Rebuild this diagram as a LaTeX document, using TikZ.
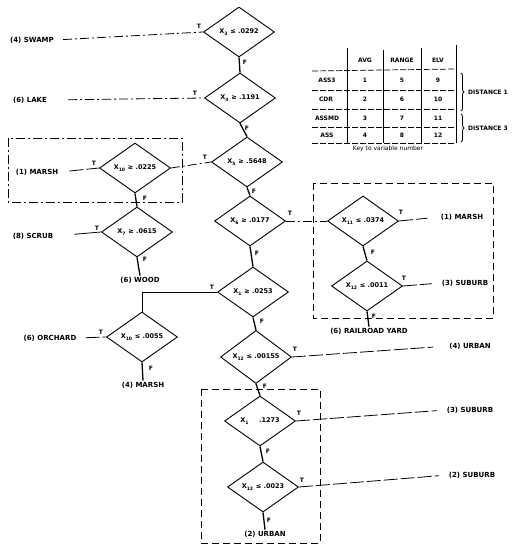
\documentclass[tikz,border=0pt]{standalone}
\usepackage{fontspec}
\setmainfont{DejaVu Sans}
\usetikzlibrary{shapes.geometric,decorations.pathreplacing}
\begin{document}
\begin{tikzpicture}[x=1pt,y=-1pt,
  dia/.style={diamond,draw,line width=0.9pt,inner sep=0pt,minimum width=71pt,minimum height=50pt,font=\bfseries\fontsize{6.5}{7}\selectfont},
  leaf/.style={inner sep=1pt,font=\bfseries\fontsize{7}{8}\selectfont},
  lab/.style={inner sep=0pt,font=\bfseries\fontsize{6}{6}\selectfont},
  cell/.style={inner sep=0pt,font=\bfseries\fontsize{6}{6}\selectfont},
  chain/.style={line width=1.3pt},
  tline/.style={line width=0.8pt},
  dd/.style={line width=0.8pt,dash pattern=on 9pt off 3pt on 2pt off 3pt},
  ld/.style={line width=0.8pt,dash pattern=on 14pt off 3pt},
  boxd/.style={line width=0.9pt,dash pattern=on 7pt off 4pt},
  boxdd/.style={line width=0.9pt,dash pattern=on 9pt off 3pt on 2pt off 3pt},
  tab/.style={line width=0.7pt,dash pattern=on 6pt off 2pt},
  tabv/.style={line width=0.9pt},
]
\fill[white] (0,0) rectangle (524,548);
\useasboundingbox (0,0) rectangle (524,548);

% dashed group boxes
\draw[boxdd] (8,138) rectangle (182,202);
\draw[boxd] (313,183) rectangle (493,318);
\draw[boxd] (201,389) rectangle (320,543);

% decision diamonds
\node[dia] (d1) at (239,32) {X\textsubscript{3} ≤ .0292};
\node[dia] (d2) at (240,98) {X\textsubscript{4} ≥ .1191};
\node[dia] (d3) at (247,162) {X\textsubscript{5} ≥ .5648};
\node[dia] (d4) at (250,221) {X\textsubscript{6} ≥ .0177};
\node[dia] (d5) at (253,292) {X\textsubscript{1} ≥ .0253};
\node[dia] (d6) at (256,357) {X\textsubscript{12} ≤ .00155};
\node[dia] (d7) at (260,421) {X\textsubscript{1} \phantom{≥} .1273};
\node[dia] (d8) at (263,487) {X\textsubscript{12} ≤ .0023};
\node[dia] (d9) at (135,168) {X\textsubscript{10} ≥ .0225};
\node[dia] (d10) at (137,232) {X\textsubscript{7} ≥ .0615};
\node[dia] (d11) at (142,337) {X\textsubscript{10} ≤ .0055};
\node[dia] (d12) at (363,221) {X\textsubscript{11} ≤ .0374};
\node[dia] (d13) at (367,286) {X\textsubscript{12} ≤ .0011};

% leaves
\node[leaf] (swamp) at (32,40) {(4) SWAMP};
\node[leaf] (lake) at (30,100) {(6) LAKE};
\node[leaf] (marshA) at (37,172) {(1) MARSH};
\node[leaf] (scrub) at (33,236) {(8) SCRUB};
\node[leaf] (wood) at (140,280) {(6) WOOD};
\node[leaf] (orchard) at (50,338) {(6) ORCHARD};
\node[leaf] (marshB) at (143,385) {(4) MARSH};
\node[leaf] (marshC) at (462,217) {(1) MARSH};
\node[leaf] (suburbA) at (465,283) {(3) SUBURB};
\node[leaf] (rail) at (369,331) {(6) RAILROAD YARD};
\node[leaf] (urbanA) at (470,346) {(4) URBAN};
\node[leaf] (suburbB) at (470,410) {(3) SUBURB};
\node[leaf] (suburbC) at (472,475) {(2) SUBURB};
\node[leaf] (urbanB) at (265,534) {(2) URBAN};

% main chain (F branches)
\draw[chain] (d1.south) -- (d2.north);
\draw[chain] (d2.south) -- (d3.north);
\draw[chain] (d3.south) -- (d4.north);
\draw[chain] (d4.south) -- (d5.north);
\draw[chain] (d5.south) -- (d6.north);
\draw[chain] (d6.south) -- (d7.north);
\draw[chain] (d7.south) -- (d8.north);
\draw[chain] (d8.south) -- (urbanB.north);
\draw[chain] (d9.south) -- (d10.north);
\draw[chain] (d10.south) -- (wood.north);
\draw[chain] (d11.south) -- (marshB.north);
\draw[chain] (d12.south) -- (d13.north);
\draw[chain] (d13.south) -- (rail.north);

% T branches
\draw[dd,shorten <=8pt] (swamp.east) -- (d1.west);
\draw[dd,shorten <=20pt] (lake.east) -- (d2.west);
\draw[ld,shorten <=10pt] (marshA.east) -- (d9.west);
\draw[dd] (d9.east) -- (d3.west);
\draw[tline,shorten <=20pt] (scrub.east) -- (d10.west);
\coordinate (cbend) at (d11.north |- d5.west);
\draw[tline] (d5.west) -- (cbend) -- (d11.north);
\draw[ld,shorten <=8pt] (orchard.east) -- (d11.west);
\draw[dd] (d4.east) -- (d12.west);
\draw[ld,shorten >=12pt] (d12.east) -- (marshC.west);
\draw[ld,shorten >=9pt] (d13.east) -- (suburbA.west);
\draw[ld,shorten >=15pt] (d6.east) -- (urbanA.west);
\draw[ld,shorten >=9pt] (d7.east) -- (suburbB.west);
\draw[ld,shorten >=9pt] (d8.east) -- (suburbC.west);

% T / F labels
\node[lab] (t1) at (199,26) {T};
\node[lab] (t2) at (195,93) {T};
\node[lab] (t3) at (205,157) {T};
\node[lab] (t4) at (290,213) {T};
\node[lab] (t5) at (212,287) {T};
\node[lab] (t6) at (295,349) {T};
\node[lab] (t7) at (299,413) {T};
\node[lab] (t8) at (302,480) {T};
\node[lab] (t9) at (94,163) {T};
\node[lab] (t10) at (97,228) {T};
\node[lab] (t11) at (101,332) {T};
\node[lab] (t12) at (401,212) {T};
\node[lab] (t13) at (404,278) {T};
\node[lab] (f1) at (245,62) {F};
\node[lab] (f2) at (247,128) {F};
\node[lab] (f3) at (254,191) {F};
\node[lab] (f4) at (257,253) {F};
\node[lab] (f5) at (262,321) {F};
\node[lab] (f6) at (265,386) {F};
\node[lab] (f7) at (268,451) {F};
\node[lab] (f8) at (269,520) {F};
\node[lab] (f9) at (145,198) {F};
\node[lab] (f10) at (145,259) {F};
\node[lab] (f11) at (151,368) {F};
\node[lab] (f12) at (373,252) {F};
\node[lab] (f13) at (374,316) {F};

% key table
\draw[tabv] (347,48) -- (347,143);
\draw[tabv] (383,50) -- (383,143);
\draw[tabv] (421,48) -- (421,143);
\draw[tabv] (456,45) -- (456,143);
\draw[tab] (312,71) -- (456,69);
\draw[tab] (312,90) -- (456,90);
\draw[tab] (312,109) -- (456,109);
\draw[tab] (312,127) -- (456,127);
\draw[tab] (312,143) -- (456,143);
\node[cell] (hAvg) at (365,60) {AVG};
\node[cell] (hRange) at (402,60) {RANGE};
\node[cell] (hElv) at (438,60) {ELV};
\node[cell] (r1) at (327,80) {ASS3};
\node[cell] (r2) at (326,99) {CDR};
\node[cell] (r3) at (327,118) {ASSMD};
\node[cell] (r4) at (327,135) {ASS};
\node[cell] (c11) at (365,80) {1};
\node[cell] (c12) at (402,80) {5};
\node[cell] (c13) at (438,80) {9};
\node[cell] (c21) at (365,99) {2};
\node[cell] (c22) at (402,99) {6};
\node[cell] (c23) at (438,99) {10};
\node[cell] (c31) at (365,118) {3};
\node[cell] (c32) at (402,118) {7};
\node[cell] (c33) at (438,118) {11};
\node[cell] (c41) at (365,135) {4};
\node[cell] (c42) at (402,135) {8};
\node[cell] (c43) at (438,135) {12};
\draw[line width=0.8pt,decorate,decoration={brace,amplitude=3pt}] (461,73) -- (461,111);
\draw[line width=0.8pt,decorate,decoration={brace,amplitude=3pt}] (461,114) -- (461,142);
\node[cell,anchor=west] (dist1) at (468,92) {DISTANCE 1};
\node[cell,anchor=west] (dist3) at (468,128) {DISTANCE 3};
\node[inner sep=0pt,font=\fontsize{6}{6}\selectfont] (key) at (388,149) {Key to variable number};
\end{tikzpicture}
\end{document}
